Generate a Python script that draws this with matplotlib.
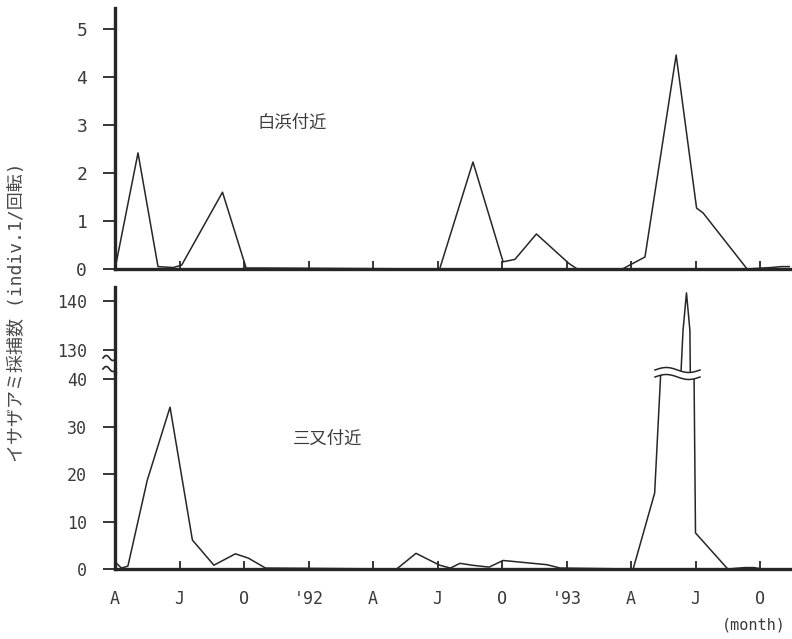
import numpy as np
import matplotlib.pyplot as plt
from matplotlib.lines import Line2D
from matplotlib.patches import Polygon

plt.rcParams['font.family'] = ['DejaVu Sans Mono', 'Noto Sans CJK JP']

# months counted from April 1991
tick_pos = [0, 3, 6, 9, 12, 15, 18, 21, 24, 27, 30]
tick_lab = ['A', 'J', 'O', "'92", 'A', 'J', 'O', "'93", 'A', 'J', 'O']

# 白浜付近
shira_m = [0, 1.07, 2.0, 2.7, 3.1, 5.0, 6.1, 7.0, 15.1, 16.65, 18.05, 18.6,
           19.6, 21.1, 21.5, 23.6, 24.65, 26.1, 27.05, 27.35, 29.4, 30.5,
           31.0, 31.4]
shira_v = [0.0, 2.42, 0.05, 0.03, 0.08, 1.6, 0.02, 0.02, 0.0, 2.23, 0.15, 0.2,
           0.73, 0.12, 0.0, 0.0, 0.25, 4.46, 1.27, 1.17, 0.0, 0.03,
           0.05, 0.05]

# 三又付近
mima_m = [0, 0.3, 0.6, 1.5, 2.56, 3.6, 4.6, 5.6, 6.2, 7.0, 13.1, 14.0, 15.1,
          15.6, 16.05, 16.6, 17.4, 18.05, 20.1, 20.7, 24.1, 25.1, 26.42,
          26.58, 26.74, 27.0, 28.5, 29.3, 29.7, 30.1]
mima_v = [1.5, 0.2, 0.6, 18.7, 34.1, 6.1, 0.8, 3.2, 2.3, 0.2, 0.0, 3.3, 0.8,
          0.2, 1.2, 0.8, 0.4, 1.8, 0.9, 0.2, 0.0, 16.0, 134.0,
          141.6, 134.0, 7.6, 0.0, 0.3, 0.3, 0.0]

W, H = 792, 639
fig = plt.figure(figsize=(W / 100, H / 100), dpi=100)


def px(x, y):
    return x / W, 1 - y / H


def box(x0, y_top, x1, y_bot):
    return [x0 / W, 1 - y_bot / H, (x1 - x0) / W, (y_bot - y_top) / H]


ink = '#262626'
txt = '#3a3a3a'
XMAX = 675 / 21.5


def style(ax, size):
    for s in ['top', 'right']:
        ax.spines[s].set_visible(False)
    ax.spines['left'].set_linewidth(2.4)
    ax.spines['bottom'].set_linewidth(2.4)
    ax.spines['left'].set_color(ink)
    ax.spines['bottom'].set_color(ink)
    ax.tick_params(axis='y', direction='out', length=9, width=1.3, pad=11,
                   labelsize=size, colors=ink, labelcolor=txt)
    ax.tick_params(axis='x', direction='in', length=6, width=1.3, colors=ink)
    ax.set_xlim(0, XMAX)
    ax.set_xticks(tick_pos)


# top panel
s1 = fig.add_axes(box(115, 8, 790, 269))
style(s1, 13)
s1.plot(shira_m, shira_v, color=ink, lw=1.1)
s1.set_ylim(0, 5.44)
s1.set_yticks(range(6))
s1.set_xticklabels([])
fig.text(*px(292, 123), '白浜付近', fontsize=12.5, color=txt,
         ha='center', va='center', family=['Noto Sans CJK JP'])

# bottom panel, lower part
s2 = fig.add_axes(box(115, 373, 790, 569))
style(s2, 12)
s2.plot(mima_m, mima_v, color=ink, lw=1.1)
s2.set_ylim(0, 41.3)
s2.set_yticks([0, 10, 20, 30, 40])
s2.set_xticklabels(tick_lab, fontsize=12, color=txt)
s2.tick_params(axis='x', pad=15)
fig.text(*px(328, 439), '三又付近', fontsize=12.5, color=txt,
         ha='center', va='center', family=['Noto Sans CJK JP'])

# bottom panel, upper part
s3 = fig.add_axes(box(115, 287, 790, 373))
style(s3, 12)
s3.spines['bottom'].set_visible(False)
s3.plot(mima_m, mima_v, color=ink, lw=1.1)
s3.set_ylim(125.4, 142.8)
s3.set_yticks([130, 140])
s3.set_xticks([])
s3.patch.set_alpha(0)

# axis break marks
t = np.linspace(0, 1, 30)
for yb in (358, 369):
    xs = 103 + 13 * t
    ys = yb - 2.5 * np.sin(2 * np.pi * t)
    fig.add_artist(Line2D(xs / W, 1 - ys / H, color=ink, lw=1.2))

# break on the spike
xs = 655 + 45 * t
up = 370 - 2.5 * np.sin(2 * np.pi * t)
lo = 377 - 2.5 * np.sin(2 * np.pi * t)
poly = np.column_stack([np.r_[xs, xs[::-1]] / W,
                        1 - np.r_[up, lo[::-1]] / H])
fig.add_artist(Polygon(poly, closed=True, facecolor='white',
                       edgecolor='none', zorder=3))
for yy in (up, lo):
    fig.add_artist(Line2D(xs / W, 1 - yy / H, color=ink, lw=1.1, zorder=4))

fig.text(*px(17, 312), 'イサザアミ採捕数 (indiv.1/回転)', rotation=90,
         fontsize=13, color='#4a4a4a', ha='center', va='center',
         family=['DejaVu Sans Mono', 'Noto Sans CJK JP'])
fig.text(*px(754, 625), '(month)', fontsize=11, color=txt,
         ha='center', va='center')

fig.savefig('out.png', dpi=100)
